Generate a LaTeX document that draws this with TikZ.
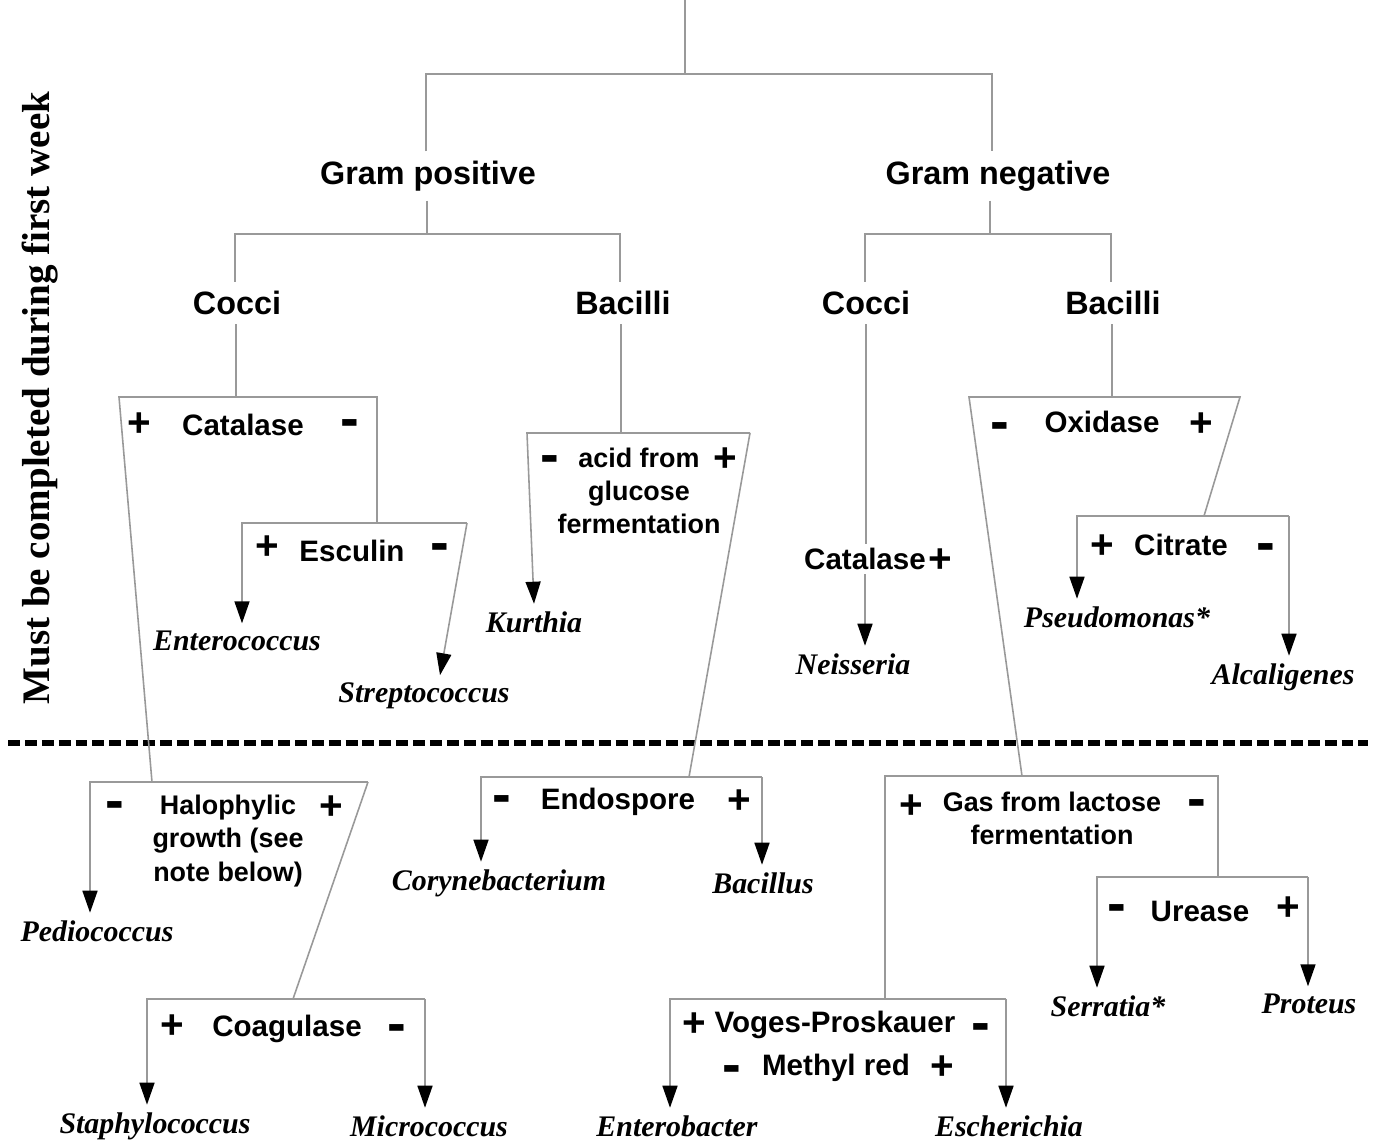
\documentclass[tikz,border=0pt]{standalone}
\usepackage{fontspec}
\setmainfont{Liberation Serif}
\setsansfont{Liberation Sans}
\usetikzlibrary{arrows.meta}
\begin{document}
\begin{tikzpicture}[x=0.01cm, y=-0.01cm,
	lvl/.style = {font=\sffamily\bfseries\fontsize{9.2}{11}\selectfont, inner sep=2.5pt},
	tst/.style = {font=\sffamily\bfseries\fontsize{8.4}{10}\selectfont, inner sep=1pt},
	tstm/.style = {font=\sffamily\bfseries\fontsize{7.65}{9.4}\selectfont, align=center, inner sep=1pt},
	sgnp/.style = {font=\sffamily\bfseries\fontsize{11.5}{11.5}\selectfont, inner sep=0pt},
	sgnm/.style = {font=\sffamily\bfseries\fontsize{16}{16}\selectfont, inner sep=0pt},
	genus/.style = {font=\rmfamily\bfseries\itshape\fontsize{8.5}{10}\selectfont, inner sep=2pt},
	side/.style = {font=\rmfamily\bfseries\fontsize{11.1}{13}\selectfont, rotate=90},
	wire/.style = {draw=black!40, line width=0.45pt},
	arr/.style = {wire, -{Triangle[color=black, width=0.15cm, length=0.22cm]}},
	cut/.style = {line width=1.5pt, dash pattern=on 3.4pt off 1.4pt}]
	\useasboundingbox (0,0) rectangle (1375,1142);

	\node[side] (note) at (40,398) {Must be completed during first week};
	\coordinate (cut-l) at (8,743);
	\coordinate (cut-r) at (1368,743);
	\draw[cut] (cut-l) -- (cut-r);

	\coordinate (root) at (685,0);
	\coordinate (gbar-l) at (426,74);
	\coordinate (gbar-m) at (685,74);
	\coordinate (gbar-r) at (992,74);
	\node[lvl] (gpos) at (428,176) {Gram positive};
	\node[lvl] (gneg) at (998,176) {Gram negative};

	\coordinate (pbar-l) at (235,234);
	\coordinate (pbar-m) at (427,234);
	\coordinate (pbar-r) at (620,234);
	\node[lvl] (pcoc) at (237,303) {Cocci};
	\node[lvl] (pbac) at (623,303) {Bacilli};
	\coordinate (nbar-l) at (865,234);
	\coordinate (nbar-m) at (990,234);
	\coordinate (nbar-r) at (1111,234);
	\node[lvl] (ncoc) at (866,303) {Cocci};
	\node[lvl] (nbac) at (1113,303) {Bacilli};

	\coordinate (cat-l) at (119,397);
	\coordinate (cat-m) at (236,397);
	\coordinate (cat-r) at (377,397);
	\node[sgnp] (cat-p) at (139,425) {+};
	\node[tst] (cat) at (243,425) {Catalase};
	\node[sgnm] (cat-n) at (350,429) {-};
	\coordinate (esc-l) at (242,523);
	\coordinate (esc-m) at (377,523);
	\coordinate (esc-r) at (467,523);
	\node[sgnp] (esc-p) at (267,548) {+};
	\node[tst] (esc) at (352,551) {Esculin};
	\node[sgnm] (esc-n) at (440,553) {-};
	\node[genus] (entero) at (237,641) {Enterococcus};
	\node[genus] (strep) at (424,696) {Streptococcus};

	\coordinate (halo-l) at (90,782);
	\coordinate (halo-m) at (152,782);
	\coordinate (halo-r) at (368,782);
	\node[sgnm] (halo-n) at (115,811) {-};
	\node[tstm] (halo) at (228,841) {Halophylic\\growth (see\\note below)};
	\node[sgnp] (halo-p) at (331,808) {+};
	\node[genus] (pedio) at (97,931) {Pediococcus};
	\coordinate (coag-l) at (147,999);
	\coordinate (coag-m) at (293,999);
	\coordinate (coag-r) at (425,999);
	\node[sgnp] (coag-p) at (172,1027) {+};
	\node[tst] (coag) at (287,1029) {Coagulase};
	\node[sgnm] (coag-n) at (397,1034) {-};
	\node[genus] (staph) at (155,1126) {Staphylococcus};
	\node[genus] (micro) at (429,1126) {Micrococcus};

	\coordinate (acid-l) at (527,433);
	\coordinate (acid-m) at (621,433);
	\coordinate (acid-r) at (750,433);
	\node[sgnm] (acid-n) at (550,465) {-};
	\node[tstm] (acid) at (639,491) {acid from\\glucose\\fermentation};
	\node[sgnp] (acid-p) at (725,460) {+};
	\node[genus] (kurthia) at (534,622) {Kurthia};
	\coordinate (endo-l) at (481,777);
	\coordinate (endo-m) at (689,777);
	\coordinate (endo-r) at (762,777);
	\node[sgnm] (endo-n) at (502,805) {-};
	\node[tst] (endo) at (618,802) {Endospore};
	\node[sgnp] (endo-p) at (739,802) {+};
	\node[genus] (coryne) at (499,883) {Corynebacterium};
	\node[genus] (bacil) at (763,883) {Bacillus};

	\node[tst] (ncat) at (865,559) {Catalase};
	\node[sgnp] (ncat-p) at (940,561) {+};
	\node[genus] (neis) at (853,664) {Neisseria};

	\coordinate (ox-l) at (969,397);
	\coordinate (ox-m) at (1112,397);
	\coordinate (ox-r) at (1240,397);
	\node[sgnm] (ox-n) at (1000,432) {-};
	\node[tst] (ox) at (1102,422) {Oxidase};
	\node[sgnp] (ox-p) at (1201,425) {+};
	\coordinate (cit-l) at (1077,516);
	\coordinate (cit-m) at (1204,516);
	\coordinate (cit-r) at (1289,516);
	\node[sgnp] (cit-p) at (1102,547) {+};
	\node[tst] (cit) at (1181,545) {Citrate};
	\node[sgnm] (cit-n) at (1266,553) {-};
	\node[genus] (pseudo) at (1117,617) {Pseudomonas*};
	\node[genus] (alcal) at (1283,677) {Alcaligenes};
	\coordinate (gas-l) at (885,776);
	\coordinate (gas-m) at (1022,776);
	\coordinate (gas-r) at (1218,776);
	\node[sgnp] (gas-p) at (911,807) {+};
	\node[tstm] (gas) at (1052,818) {Gas from lactose\\fermentation};
	\node[sgnm] (gas-n) at (1197,809) {-};
	\coordinate (ure-l) at (1097,877);
	\coordinate (ure-m) at (1218,877);
	\coordinate (ure-r) at (1308,877);
	\node[sgnm] (ure-n) at (1117,914) {-};
	\node[tst] (ure) at (1200,911) {Urease};
	\node[sgnp] (ure-p) at (1288,909) {+};
	\node[genus] (serr) at (1108,1006) {Serratia*};
	\node[genus] (prot) at (1309,1004) {Proteus};
	\coordinate (vp-l) at (670,999);
	\coordinate (vp-m) at (885,999);
	\coordinate (vp-r) at (1006,999);
	\node[sgnp] (vp-p) at (694,1025) {+};
	\node[tst] (vp) at (835,1025) {Voges-Proskauer};
	\node[sgnm] (vp-n) at (981,1033) {-};
	\node[sgnm] (mr-n) at (732,1075) {-};
	\node[tst] (mr) at (836,1068) {Methyl red};
	\node[sgnp] (mr-p) at (942,1068) {+};
	\node[genus] (entb) at (677,1126) {Enterobacter};
	\node[genus] (esch) at (1009,1126) {Escherichia};

	\draw[wire] (root) -- (gbar-m);
	\draw[wire] (gbar-l |- gpos.north) -- (gbar-l) -- (gbar-r) -- (gbar-r |- gneg.north);
	\draw[wire] (pbar-m |- gpos.south) -- (pbar-m);
	\draw[wire] (pbar-l |- pcoc.north) -- (pbar-l) -- (pbar-r) -- (pbar-r |- pbac.north);
	\draw[wire] (nbar-m |- gneg.south) -- (nbar-m);
	\draw[wire] (nbar-l |- ncoc.north) -- (nbar-l) -- (nbar-r) -- (nbar-r |- nbac.north);

	\draw[wire] (cat-m |- pcoc.south) -- (cat-m);
	\draw[wire] (halo-m) -- (cat-l) -- (cat-r) -- (esc-m);
	\draw[arr] (esc-r) -- (esc-l) -- (esc-l |- entero.north);
	\draw[arr] (esc-r) -- ([xshift=0.16cm]strep.north);
	\draw[arr] (halo-r) -- (halo-l) -- (halo-l |- pedio.north);
	\draw[wire] (halo-r) -- (coag-m);
	\draw[arr] (coag-r) -- (coag-l) -- (coag-l |- staph.north);
	\draw[arr] (coag-r) -- (coag-r |- micro.north);

	\draw[wire] (acid-m |- pbac.south) -- (acid-m);
	\draw[arr] (acid-r) -- (acid-l) -- (kurthia.north);
	\draw[wire] (acid-r) -- (endo-m);
	\draw[arr] (endo-r) -- (endo-l) -- (endo-l |- coryne.north);
	\draw[arr] (endo-r) -- (endo-r |- bacil.north);

	\draw[wire] (ncoc.south) -- (ncoc.south |- ncat.north);
	\draw[arr] (ncat.south) -- (ncat.south |- neis.north);

	\draw[wire] (ox-m |- nbac.south) -- (ox-m);
	\draw[wire] (gas-m) -- (ox-l) -- (ox-r) -- (cit-m);
	\draw[arr] (cit-r) -- (cit-l) -- (cit-l |- pseudo.north);
	\draw[arr] (cit-r) -- (cit-r |- alcal.north);
	\draw[wire] (vp-m) -- (gas-l) -- (gas-r) -- (ure-m);
	\draw[arr] (ure-r) -- (ure-l) -- (ure-l |- serr.north);
	\draw[arr] (ure-r) -- (ure-r |- prot.north);
	\draw[arr] (vp-r) -- (vp-l) -- (vp-l |- entb.north);
	\draw[arr] (vp-r) -- (vp-r |- esch.north);
\end{tikzpicture}
\end{document}
